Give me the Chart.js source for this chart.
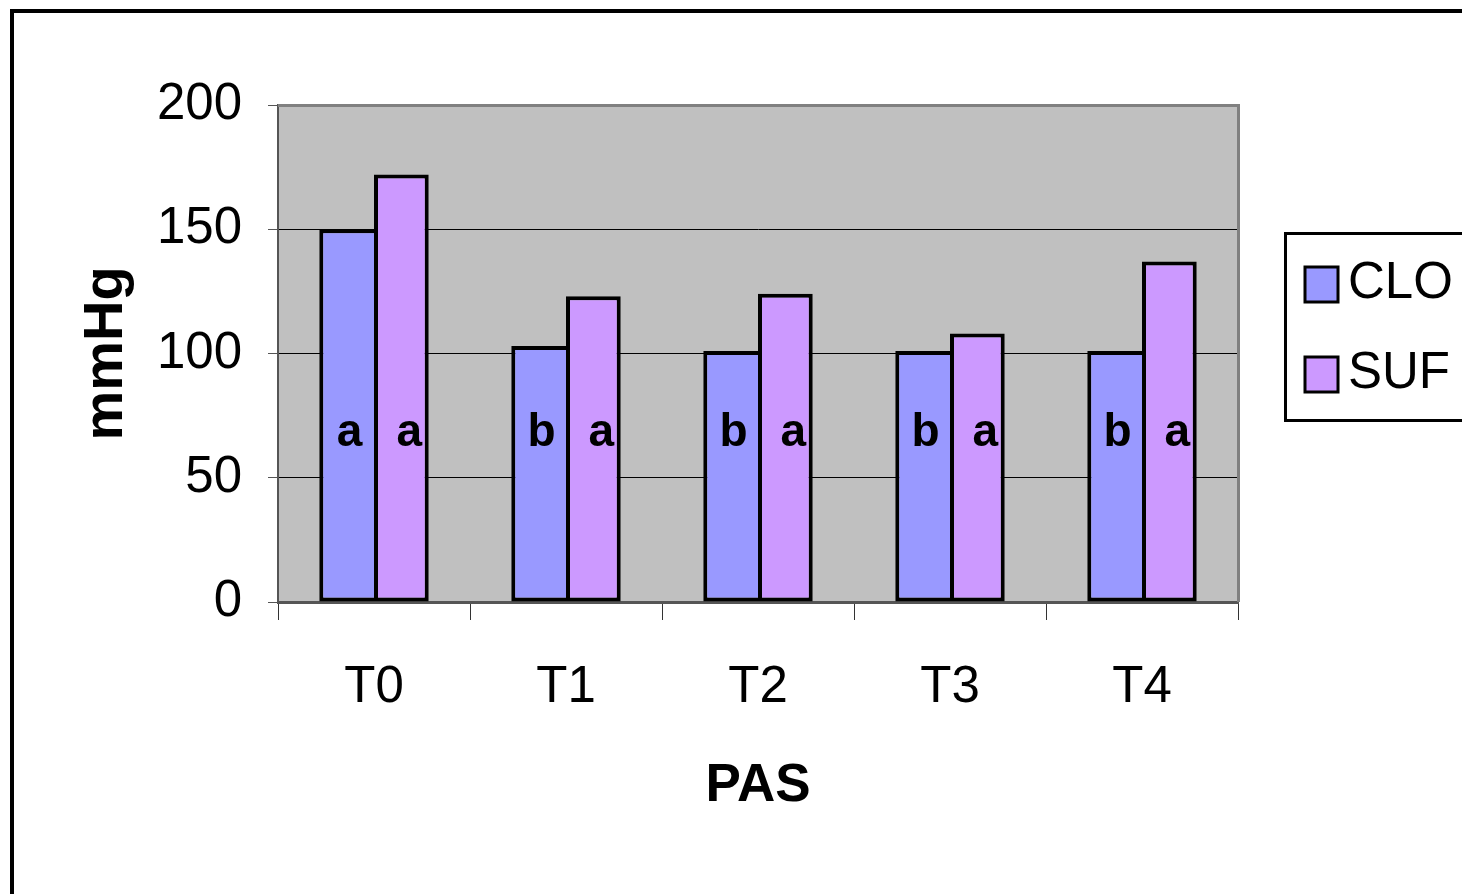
<!DOCTYPE html>
<html>
<head>
<meta charset="utf-8">
<script src="https://cdn.jsdelivr.net/npm/chart.js@4.4.1/dist/chart.umd.min.js"></script>
<style>
  html, body { margin: 0; padding: 0; background: #ffffff; }
  #wrap { width: 1462px; height: 894px; position: relative; }
</style>
</head>
<body>
<div id="wrap"><canvas id="c" width="1462" height="894"></canvas></div>
<script>
// Systolic arterial pressure (PAS) per time point, two groups
const categories = ['T0', 'T1', 'T2', 'T3', 'T4'];
const cloValues = [150, 103, 101, 101, 101];
const sufValues = [172, 123, 124, 108, 137];
const cloLetters = ['a', 'b', 'b', 'b', 'b'];
const sufLetters = ['a', 'a', 'a', 'a', 'a'];
const yTicks = [0, 50, 100, 150, 200];
const letterLevel = 68;

const FONT = '"Liberation Sans", Arial, sans-serif';

// Grey plot background, plot border, outer frame and legend box
const decor = {
  id: 'decor',
  beforeDraw(chart) {
    const { ctx, chartArea: a } = chart;
    ctx.save();
    ctx.fillStyle = '#C0C0C0';
    ctx.fillRect(a.left, a.top, a.right - a.left, a.bottom - a.top);
    // frame around the whole figure
    ctx.strokeStyle = '#000';
    ctx.lineWidth = 4;
    ctx.strokeRect(12, 11, 2000, 2000);
    ctx.restore();
  },
  afterDatasetsDraw(chart) {
    const { ctx, chartArea: a } = chart;
    const y = chart.scales.y;
    ctx.save();
    // top and right edges of the plot area
    ctx.strokeStyle = '#808080';
    ctx.lineWidth = 3;
    ctx.beginPath();
    ctx.moveTo(a.left, a.top + 0.5);
    ctx.lineTo(a.right + 0.5, a.top + 0.5);
    ctx.lineTo(a.right + 0.5, a.bottom);
    ctx.stroke();

    // significance letters inside the bars
    ctx.fillStyle = '#000';
    ctx.font = 'bold 46px ' + FONT;
    ctx.textAlign = 'center';
    ctx.textBaseline = 'middle';
    const py = y.getPixelForValue(letterLevel);
    [[0, cloLetters, 3], [1, sufLetters, 8]].forEach(([di, letters, dx]) => {
      const meta = chart.getDatasetMeta(di);
      meta.data.forEach((bar, i) => {
        ctx.fillText(letters[i], bar.x + dx, py);
      });
    });

    // legend
    const lx = 1285, ly = 233;
    ctx.strokeStyle = '#000';
    ctx.lineWidth = 3;
    ctx.strokeRect(lx + 0.5, ly + 0.5, 400, 187);
    ctx.font = '51px ' + FONT;
    ctx.textAlign = 'left';
    chart.data.datasets.forEach((ds, i) => {
      const cy = 284 + i * 90;
      ctx.fillStyle = ds.backgroundColor;
      ctx.fillRect(1305, cy - 17, 33, 35);
      ctx.lineWidth = 3;
      ctx.strokeStyle = '#000';
      ctx.strokeRect(1305, cy - 17, 33, 35);
      ctx.fillStyle = '#000';
      ctx.fillText(ds.label, 1348, cy);
    });
    ctx.restore();
  }
};

new Chart(document.getElementById('c'), {
  type: 'bar',
  data: {
    labels: categories,
    datasets: [
      { label: 'CLO', data: cloValues, backgroundColor: '#9999FF', borderColor: '#000', borderWidth: 4, borderSkipped: 'right' },
      { label: 'SUF', data: sufValues, backgroundColor: '#CC99FF', borderColor: '#000', borderWidth: 4, borderSkipped: false }
    ]
  },
  options: {
    responsive: false,
    animation: false,
    devicePixelRatio: 1,
    layout: { padding: { left: 58, top: 105, right: 224, bottom: 60 } },
    datasets: { bar: { categoryPercentage: 0.57, barPercentage: 1.0 } },
    plugins: { legend: { display: false }, tooltip: { enabled: false } },
    scales: {
      x: {
        afterFit(s) { s.height = 232; },
        grid: { offset: true, drawOnChartArea: false, drawTicks: true, tickLength: 18, color: '#333', lineWidth: 1 },
        border: { color: '#555', width: 3 },
        ticks: { color: '#000', font: { family: FONT, size: 51 }, padding: 37 },
        title: { display: true, text: 'PAS', color: '#000', font: { family: FONT, size: 53, weight: 'bold' }, padding: { top: 0, bottom: 16 } }
      },
      y: {
        min: 0, max: 200,
        afterFit(s) { s.width = 220; },
        afterBuildTicks(s) { s.ticks = yTicks.map(v => ({ value: v })); },
        grid: { color: '#000', lineWidth: 1, tickLength: 10, tickColor: '#555' },
        border: { color: '#555', width: 2 },
        ticks: { color: '#000', font: { family: FONT, size: 51 }, padding: 26 },
        title: { display: true, text: 'mmHg', color: '#000', font: { family: FONT, size: 56, weight: 'bold' }, padding: { top: 15, bottom: 0 } }
      }
    }
  },
  plugins: [decor]
});
</script>
</body>
</html>
